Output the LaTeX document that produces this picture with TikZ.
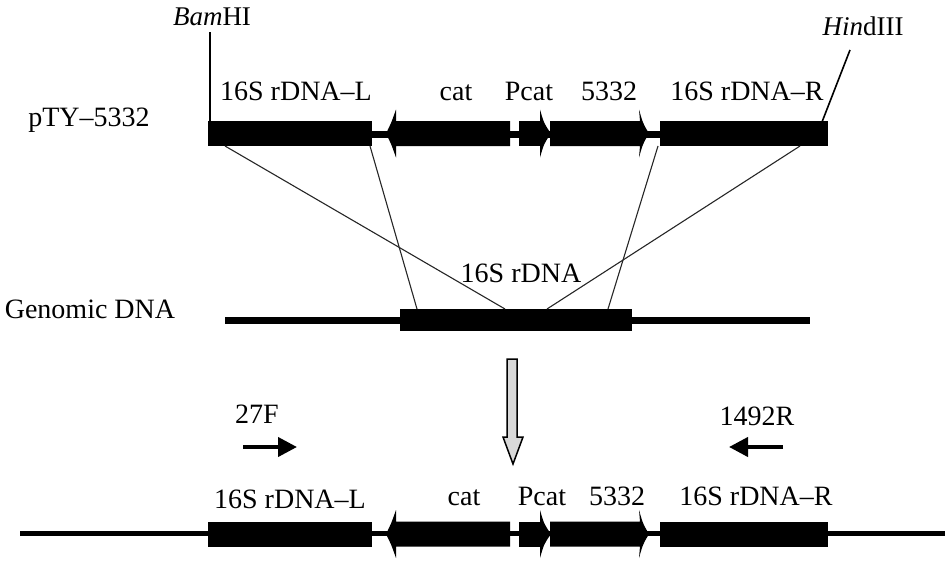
\documentclass[tikz,border=0pt]{standalone}
\usepackage{fontspec}
\setmainfont{Liberation Serif}
\usetikzlibrary{arrows.meta}
\begin{document}
\begin{tikzpicture}[x=1pt,y=-1pt,
  lbl/.style={anchor=base,inner sep=0pt,font=\fontsize{28}{30}\selectfont},
  site/.style={anchor=base,inner sep=0pt,font=\fontsize{27}{30}\selectfont},
  cross/.style={line width=1.1pt,black!85},
  tick/.style={line width=1.6pt},
  primer/.style={line width=4pt,-{Triangle[length=19pt,width=19pt]}},
  bar/.style={fill=black,draw=none,inner sep=0pt,minimum height=25pt},
  pics/cassette/.style={code={
    \node[bar,minimum width=164pt] (-L) at (290,0) {};
    \fill (386,0) .. controls (391,-10) .. (396,-24) -- (396,-12.5) -- (510,-12.5) -- (510,12.5) -- (396,12.5) -- (396,24) .. controls (391,10) .. cycle;
    \fill (519,-12.5) rectangle (541,12.5);
    \fill (540,-24) .. controls (544,-10) .. (551,0) .. controls (544,10) .. (540,24) -- cycle;
    \fill (550,-12.5) -- (640,-12.5) -- (639,-24) .. controls (643,-10) .. (649,0) .. controls (643,10) .. (639,24) -- (640,12.5) -- (550,12.5) -- cycle;
    \node[bar,minimum width=168pt] (-R) at (744,0) {};
  }}]
\useasboundingbox (0,0) rectangle (945,570);

% ---- top construct pTY-5332
\draw[line width=7pt] (208,134) -- (828,134);
\pic (top) at (0,133.5) {cassette};
\node[lbl] (pty) at (89,126) {pTY--5332};
\node[lbl] (tL) at (296,100) {16S rDNA--L};
\node[lbl] (tcat) at (456,100) {cat};
\node[lbl] (tPcat) at (529,100) {Pcat};
\node[lbl] (t5332) at (609,100) {5332};
\node[lbl] (tR) at (747,100) {16S rDNA--R};

\node[site] (bam) at (212,25) {\textit{Bam}HI};
\node[site] (hind) at (863,35) {\textit{Hin}dIII};
\coordinate (bamtop) at (210,32);
\coordinate (hindtop) at (850,50);
\draw[tick] (bamtop) -- (210,121);
\draw[tick] (hindtop) -- (822,122);

% ---- genomic DNA
\node[lbl] (gen) at (90,318) {Genomic DNA};
\coordinate (g1) at (225,320.5);
\coordinate (g2) at (810,320.5);
\draw[line width=7pt] (g1) -- (g2);
\node[bar,minimum width=232pt,minimum height=22pt] (gbox) at (516,320) {};
\node[lbl] (g16) at (521,282) {16S rDNA};

\coordinate (a1) at (225,146);
\coordinate (a2) at (370,146);
\coordinate (a3) at (658,146);
\coordinate (a4) at (800,146);
\coordinate (b1) at (505,309);
\coordinate (b2) at (417,309);
\coordinate (b3) at (608,309);
\coordinate (b4) at (547,309);
\draw[cross] (a1) -- (b1);
\draw[cross] (a2) -- (b2);
\draw[cross] (a3) -- (b3);
\draw[cross] (a4) -- (b4);

% ---- big down arrow
\draw[fill=black!15,line width=1.5pt,line join=miter] (507,359) -- (517,359) -- (517,437) -- (523,437) -- (513,464) -- (503,437) -- (507,437) -- cycle;

% ---- primers
\node[lbl] (f27) at (257,423) {27F};
\node[lbl] (r1492) at (757,425) {1492R};
\coordinate (fs) at (243,447);
\coordinate (fe) at (297,447);
\coordinate (rs) at (783,447);
\coordinate (re) at (729,447);
\draw[primer] (fs) -- (fe);
\draw[primer] (rs) -- (re);

% ---- bottom construct
\draw[line width=5pt] (20,533) -- (945,533);
\pic (bot) at (0,534) {cassette};
\node[lbl] (bL) at (290,508) {16S rDNA--L};
\node[lbl] (bcat) at (464,505) {cat};
\node[lbl] (bPcat) at (542,505) {Pcat};
\node[lbl] (b5332) at (617,505) {5332};
\node[lbl] (bR) at (756,505) {16S rDNA--R};
\end{tikzpicture}
\end{document}
